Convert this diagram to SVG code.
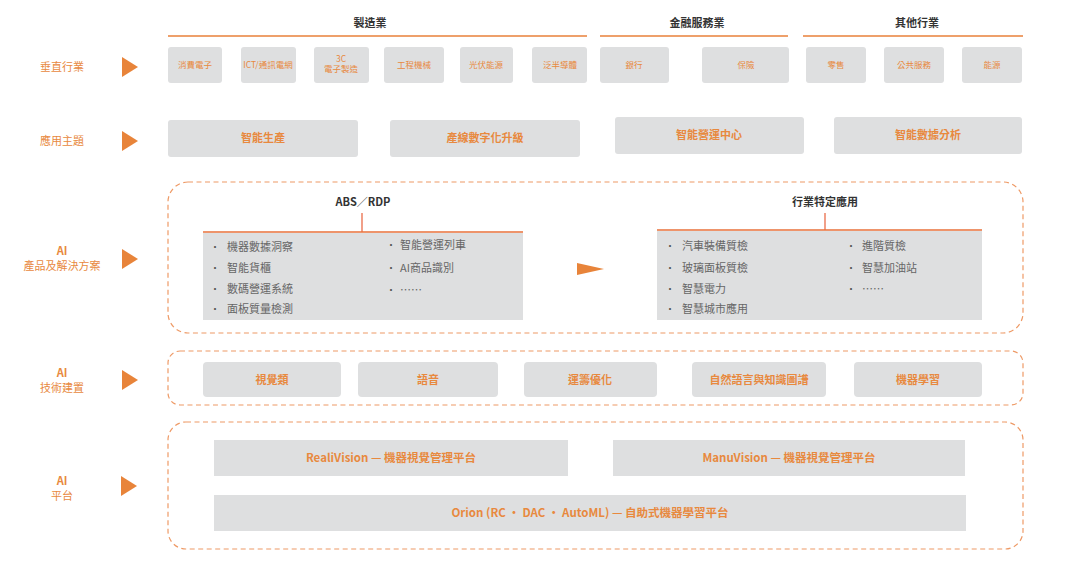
<svg xmlns="http://www.w3.org/2000/svg" width="1080" height="574" viewBox="0 0 1080 574">
<defs>
<style>
text{font-family:"Noto Sans CJK TC","Noto Sans",sans-serif}
.hd{font-size:11px;fill:#333;text-anchor:middle;font-weight:bold}
.lb{font-size:11px;fill:#e8893e;text-anchor:middle}
.bt{font-size:8.5px;fill:#e8893e;text-anchor:middle}
.bm{font-size:11px;fill:#e8893e;text-anchor:middle;font-weight:600}
.bl{font-size:11.5px;fill:#e8893e;text-anchor:middle;font-weight:600}
.bx{fill:#dedfe0}
.it{font-size:11px;fill:#666}
.bu{font-size:10px;fill:#555}
.dash{fill:none;stroke:#ee9a66;stroke-width:1.2;stroke-dasharray:5 3.5}
.ol{stroke:#e8803a;stroke-width:1.6}
.tri{fill:#e8843a}
</style>
</defs>
<rect width="1080" height="574" fill="#ffffff"/>

<g id="labels">
<text class="lb" x="62" y="71">垂直行業</text>
<polygon class="tri" points="122,57 138,67 122,77"/>
<text class="lb" x="62" y="145">應用主題</text>
<polygon class="tri" points="122,131 138,141 122,151"/>
<text class="lb" x="62" y="255" font-weight="bold">AI</text>
<text class="lb" x="62" y="270">產品及解決方案</text>
<polygon class="tri" points="122,249 138,259 122,269"/>
<text class="lb" x="62" y="377" font-weight="bold">AI</text>
<text class="lb" x="62" y="392">技術建置</text>
<polygon class="tri" points="122,370 138,380 122,390"/>
<text class="lb" x="62" y="485" font-weight="bold">AI</text>
<text class="lb" x="62" y="500">平台</text>
<polygon class="tri" points="121,476 137,486 121,496"/>
</g>

<g id="headers">
<text class="hd" x="370" y="27">製造業</text>
<line class="ol" x1="168" y1="36" x2="587" y2="36"/>
<text class="hd" x="697" y="27">金融服務業</text>
<line class="ol" x1="600" y1="36" x2="788" y2="36"/>
<text class="hd" x="917" y="27">其他行業</text>
<line class="ol" x1="803" y1="36" x2="1023" y2="36"/>
</g>

<g id="industries">
<rect class="bx" x="168" y="47" width="54" height="36" rx="3"/><text class="bt" x="195" y="68">消費電子</text>
<rect class="bx" x="241" y="47" width="55" height="36" rx="3"/><text class="bt" x="268" y="68">ICT/通訊電網</text>
<rect class="bx" x="314" y="47" width="55" height="36" rx="3"/><text class="bt" x="341" y="62">3C</text><text class="bt" x="341" y="72">電子製造</text>
<rect class="bx" x="384" y="47" width="60" height="36" rx="3"/><text class="bt" x="414" y="68">工程機械</text>
<rect class="bx" x="460" y="47" width="53" height="36" rx="3"/><text class="bt" x="486" y="68">光伏能源</text>
<rect class="bx" x="532" y="47" width="55" height="36" rx="3"/><text class="bt" x="560" y="68">泛半導體</text>
<rect class="bx" x="600" y="47" width="69" height="36" rx="3"/><text class="bt" x="634" y="68">銀行</text>
<rect class="bx" x="702" y="47" width="87" height="36" rx="3"/><text class="bt" x="746" y="68">保險</text>
<rect class="bx" x="806" y="47" width="60" height="36" rx="3"/><text class="bt" x="836" y="68">零售</text>
<rect class="bx" x="884" y="47" width="60" height="36" rx="3"/><text class="bt" x="914" y="68">公共服務</text>
<rect class="bx" x="962" y="47" width="60" height="36" rx="3"/><text class="bt" x="992" y="68">能源</text>
</g>

<g id="themes">
<rect class="bx" x="168" y="120" width="190" height="37" rx="3"/><text class="bm" x="263" y="142">智能生產</text>
<rect class="bx" x="390" y="120" width="190" height="37" rx="3"/><text class="bm" x="485" y="142">產線數字化升級</text>
<rect class="bx" x="615" y="117" width="189" height="37" rx="3"/><text class="bm" x="709" y="139">智能營運中心</text>
<rect class="bx" x="834" y="117" width="188" height="37" rx="3"/><text class="bm" x="928" y="139">智能數據分析</text>
</g>

<g id="solutions">
<rect class="dash" x="168" y="182" width="855" height="151" rx="20"/>
<text class="hd" x="363" y="206">ABS／RDP</text>
<rect class="bx" x="203" y="233" width="320" height="87"/>
<text class="bu" x="210" y="251">•</text><text class="it" x="227" y="251">機器數據洞察</text>
<text class="bu" x="210" y="272">•</text><text class="it" x="227" y="272">智能貨櫃</text>
<text class="bu" x="210" y="293">•</text><text class="it" x="227" y="293">數碼營運系統</text>
<text class="bu" x="210" y="313">•</text><text class="it" x="227" y="313">面板質量檢測</text>
<text class="bu" x="386" y="249">•</text><text class="it" x="400" y="249">智能營運列車</text>
<text class="bu" x="386" y="272">•</text><text class="it" x="400" y="272" fill="#555">AI商品識別</text>
<text class="bu" x="386" y="294">•</text><text class="it" x="400" y="294">……</text>
<polygon class="tri" points="577,263 604,269 577,275"/>
<text class="hd" x="825" y="206" font-weight="normal">行業特定應用</text>
<rect class="bx" x="657" y="231" width="325" height="89"/>
<text class="bu" x="665" y="250">•</text><text class="it" x="682" y="250">汽車裝備質檢</text>
<text class="bu" x="665" y="272">•</text><text class="it" x="682" y="272">玻璃面板質檢</text>
<text class="bu" x="665" y="293">•</text><text class="it" x="682" y="293">智慧電力</text>
<text class="bu" x="665" y="313">•</text><text class="it" x="682" y="313">智慧城市應用</text>
<text class="bu" x="846" y="250">•</text><text class="it" x="862" y="250">進階質檢</text>
<text class="bu" x="846" y="272">•</text><text class="it" x="862" y="272">智慧加油站</text>
<text class="bu" x="846" y="293">•</text><text class="it" x="862" y="293">……</text>
</g>

<g id="tech">
<rect class="dash" x="168" y="351" width="855" height="54" rx="12"/>
<rect class="bx" x="203" y="362" width="138" height="35" rx="4"/><text class="bm" x="272" y="384">視覺類</text>
<rect class="bx" x="358" y="362" width="140" height="35" rx="4"/><text class="bm" x="428" y="384">語音</text>
<rect class="bx" x="524" y="362" width="133" height="35" rx="4"/><text class="bm" x="590" y="384">運籌優化</text>
<rect class="bx" x="692" y="362" width="134" height="35" rx="4"/><text class="bm" x="759" y="384">自然語言與知識圖譜</text>
<rect class="bx" x="854" y="362" width="128" height="35" rx="4"/><text class="bm" x="918" y="384">機器學習</text>
</g>

<g id="platform">
<rect class="dash" x="168" y="422" width="855" height="127" rx="18"/>
<rect class="bx" x="214" y="440" width="354" height="36"/><text class="bl" x="391" y="462">RealiVision — 機器視覺管理平台</text>
<rect class="bx" x="613" y="440" width="352" height="36"/><text class="bl" x="789" y="462">ManuVision — 機器視覺管理平台</text>
<rect class="bx" x="214" y="495" width="752" height="36"/><text class="bl" x="590" y="517">Orion (RC · DAC · AutoML) — 自助式機器學習平台</text>
</g>

<g id="connectors">
<line stroke="#e8603a" stroke-width="1.2" x1="362" y1="213" x2="362" y2="232"/>
<line stroke="#e8703a" stroke-width="1.4" x1="203" y1="232" x2="523" y2="232"/>
<line stroke="#e8603a" stroke-width="1.2" x1="825" y1="213" x2="825" y2="230"/>
<line stroke="#e8703a" stroke-width="1.4" x1="657" y1="230" x2="982" y2="230"/>
</g>
</svg>
